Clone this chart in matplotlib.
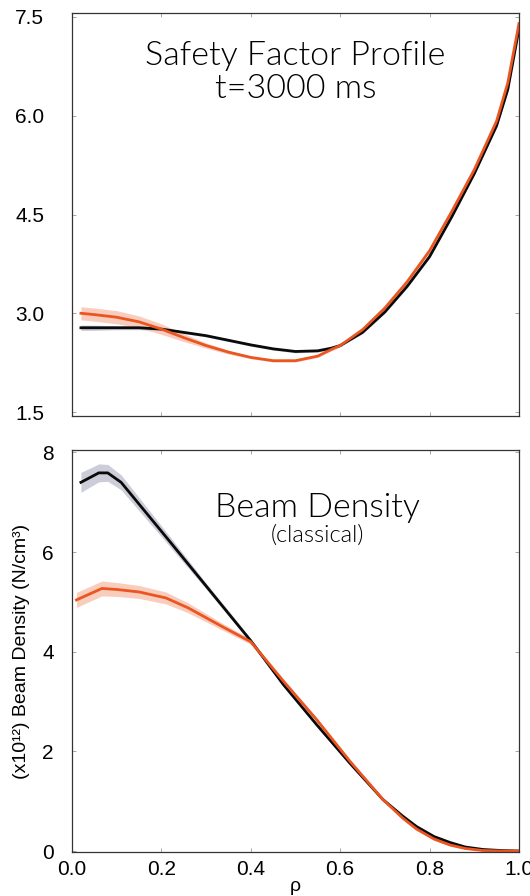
import matplotlib
matplotlib.use('Agg')
import matplotlib.pyplot as plt
import numpy as np

plt.rcParams['font.family'] = ['Liberation Sans', 'DejaVu Sans']

# safety factor profile, t=3000 ms
rho_q_black = [0.02, 0.05, 0.10, 0.15, 0.20, 0.25, 0.30, 0.35, 0.40, 0.45, 0.50, 0.55, 0.58, 0.60,
               0.65, 0.70, 0.75, 0.80, 0.85, 0.90, 0.95, 0.975, 1.00]
q_black = [2.78, 2.78, 2.78, 2.78, 2.76, 2.71, 2.66, 2.59, 2.52, 2.46, 2.42, 2.43, 2.47, 2.51,
           2.71, 3.02, 3.41, 3.86, 4.47, 5.12, 5.85, 6.40, 7.32]
q_black_err = [0.04, 0.04, 0.03, 0.03, 0.02, 0.02, 0.02, 0.02, 0.02, 0.02, 0.02, 0.02, 0.02, 0.02,
               0.02, 0.02, 0.02, 0.02, 0.02, 0.02, 0.03, 0.03, 0.04]

rho_q_orange = [0.02, 0.05, 0.075, 0.10, 0.15, 0.20, 0.25, 0.30, 0.35, 0.40, 0.45, 0.50, 0.55, 0.58, 0.60,
                0.65, 0.70, 0.75, 0.80, 0.85, 0.90, 0.95, 0.975, 1.00]
q_orange = [3.00, 2.98, 2.96, 2.94, 2.87, 2.76, 2.63, 2.51, 2.41, 2.33, 2.28, 2.28, 2.35, 2.45, 2.51,
            2.75, 3.08, 3.48, 3.95, 4.55, 5.18, 5.92, 6.50, 7.40]
q_orange_err = [0.10, 0.10, 0.10, 0.10, 0.09, 0.08, 0.06, 0.04, 0.03, 0.02, 0.02, 0.02, 0.02, 0.02, 0.02,
                0.02, 0.02, 0.02, 0.02, 0.02, 0.02, 0.03, 0.03, 0.04]

# beam density (classical), x10^12 N/cm^3
rho_n_black = [0.02, 0.06, 0.08, 0.11, 0.22, 0.30, 0.37, 0.40, 0.473, 0.547, 0.622, 0.696, 0.74,
               0.771, 0.81, 0.846, 0.88, 0.92, 0.96, 1.00]
n_black = [7.40, 7.59, 7.59, 7.40, 6.20, 5.32, 4.55, 4.22, 3.34, 2.54, 1.76, 1.03, 0.70,
           0.49, 0.29, 0.17, 0.08, 0.03, 0.01, 0.0]
n_black_err = [0.20, 0.18, 0.17, 0.15, 0.10, 0.06, 0.05, 0.04, 0.03, 0.03, 0.03, 0.03, 0.02,
               0.02, 0.02, 0.02, 0.01, 0.01, 0.0, 0.0]

rho_n_orange = [0.01, 0.067, 0.10, 0.15, 0.21, 0.26, 0.335, 0.40, 0.473, 0.547, 0.622, 0.696, 0.74,
                0.771, 0.81, 0.846, 0.88, 0.92, 0.96, 1.00]
n_orange = [5.04, 5.27, 5.25, 5.20, 5.08, 4.88, 4.51, 4.20, 3.41, 2.64, 1.80, 1.03, 0.66,
            0.44, 0.24, 0.12, 0.05, 0.01, 0.0, 0.0]
n_orange_err = [0.15, 0.15, 0.14, 0.13, 0.12, 0.10, 0.07, 0.05, 0.04, 0.04, 0.03, 0.03, 0.02,
                0.02, 0.02, 0.02, 0.01, 0.01, 0.0, 0.0]

black = '#0a0a0a'
orange = '#ea5520'
band_black = '#a4a4bc'
band_orange = '#f4a58a'

fig = plt.figure(figsize=(5.3, 8.96), dpi=100)
ax1 = fig.add_axes([0.1358, 0.5357, 0.8434, 0.4498])
ax2 = fig.add_axes([0.1358, 0.0491, 0.8434, 0.4487])


def band(ax, x, y, e, col, bandcol):
    x = np.array(x); y = np.array(y); e = np.array(e)
    ax.fill_between(x, y - e, y + e, color=bandcol, alpha=0.55, lw=0)
    ax.plot(x, y, color=col, lw=2.0, solid_joinstyle='round')


band(ax1, rho_q_black, q_black, q_black_err, black, band_black)
band(ax1, rho_q_orange, q_orange, q_orange_err, orange, band_orange)
band(ax2, rho_n_black, n_black, n_black_err, black, band_black)
band(ax2, rho_n_orange, n_orange, n_orange_err, orange, band_orange)

ax1.set_xlim(0, 1)
ax1.set_ylim(1.44, 7.56)
ax1.set_yticks([1.5, 3.0, 4.5, 6.0, 7.5])
ax1.set_yticklabels(['1.5', '3.0', '4.5', '6.0', '7.5'])
ax1.set_xticks([0.2, 0.4, 0.6, 0.8])
ax1.tick_params(labelbottom=False)

ax2.set_xlim(0, 1)
ax2.set_ylim(-0.02, 8.05)
ax2.set_yticks([0, 2, 4, 6, 8])
ax2.set_xticks([0.0, 0.2, 0.4, 0.6, 0.8, 1.0])
ax2.set_xticklabels(['0.0', '0.2', '0.4', '0.6', '0.8', '1.0'])
ax2.set_xlabel('ρ', fontsize=14)
ax2.xaxis.set_label_coords(0.5, -0.064)
ax2.set_ylabel('(x10¹²) Beam Density (N/cm³)', fontsize=14)
ax2.yaxis.set_label_coords(-0.094, 0.5)

for ax in (ax1, ax2):
    ax.tick_params(direction='in', length=3, width=0.6, color='#999999', top=True, right=True,
                   labelsize=15)
    ax.tick_params(axis='x', pad=6)
    for s in ax.spines.values():
        s.set_color('#333333')
        s.set_linewidth(0.9)
ax1.tick_params(axis='y', pad=20)
ax2.tick_params(axis='y', pad=13)

ax1.text(0.50, 0.852, 'Safety Factor Profile\nt=3000 ms', transform=ax1.transAxes,
         ha='center', va='center', fontsize=24.5, family='Lato', fontweight=300, linespacing=1.15)
ax2.text(0.55, 0.856, 'Beam Density', transform=ax2.transAxes,
         ha='center', va='center', fontsize=24.5, family='Lato', fontweight=300)
ax2.text(0.55, 0.787, '(classical)', transform=ax2.transAxes,
         ha='center', va='center', fontsize=17, family='Lato', fontweight=300)

fig.savefig('out.png', dpi=100)
